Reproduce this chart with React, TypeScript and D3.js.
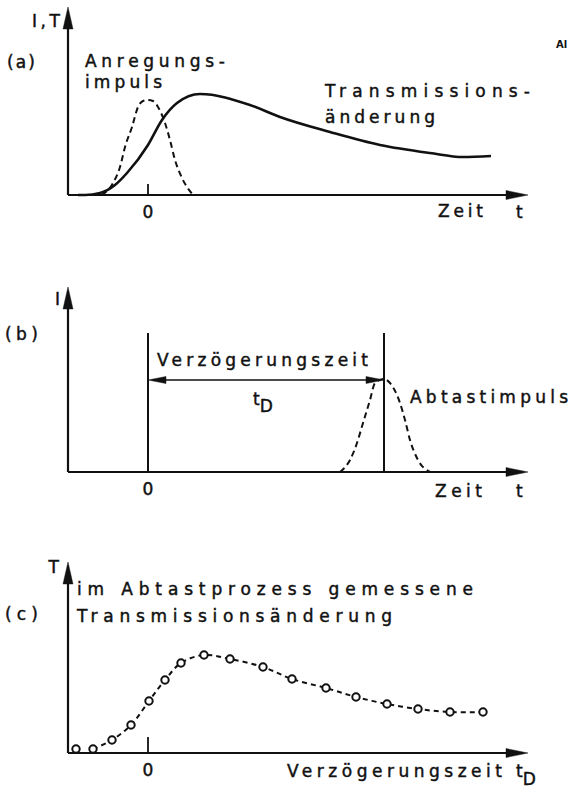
import * as d3 from 'd3';

// (a) Anregungsimpuls (gestrichelt) und Transmissionsänderung (durchgezogen)
const pumpT = [-4.6, -3.5, -2.8, -2.3, -1.6, -1.0, -0.5, 0, 0.5, 1.0, 1.7, 2.2, 2.7, 3.4, 4.5];
const pumpI = [0, 1.2, 2.8, 4.8, 6.8, 8.8, 9.4, 9.5, 9.4, 8.8, 7.2, 5.5, 3.5, 1.7, 0];
const transT = [-7, -6.3, -4.8, -3.3, -2.1, 0, 1.4, 2.9, 5.2, 10.2, 13.2, 18.2, 23.2, 28.2, 31.5, 34.3];
const transV = [0, 0, 0.2, 1.0, 2.2, 5.0, 7.5, 9.2, 10.1, 9.0, 7.8, 6.3, 5.0, 4.2, 3.8, 3.9];

// (b) Abtastimpuls bei Verzögerungszeit tD
const delayT = 23.6;
const probeT = [19.2, 20.2, 20.9, 21.5, 22.2, 22.7, 23.6, 24.2, 25.2, 25.7, 26.2, 27.0, 28.2];
const probeI = [0, 1.2, 2.9, 4.9, 7.2, 8.9, 9.3, 8.9, 6.9, 5.2, 3.2, 1.2, 0];

// (c) gemessene Punkte
const sampleT = [-7.2, -5.5, -3.6, -1.7, 0.1, 1.7, 3.3, 5.6, 8.2, 11.5, 14.4, 17.8, 20.8, 23.9, 27.0, 30.2, 33.5];
const sampleV = [0.4, 0.4, 1.3, 2.8, 5.2, 7.3, 9.0, 9.8, 9.4, 8.6, 7.4, 6.5, 5.6, 4.9, 4.4, 4.1, 4.1];

const FONT = 'DejaVu Sans';
const INK = '#111';
const x = d3.scaleLinear().domain([-8, 38]).range([68, 528]);

// Text mit fester Breite (Schablonenschrift hat gleichmäßige Abstände)
function Label({ x, y, len, children }: { x: number; y: number; len?: number; children: any }) {
  return (
    <text x={x} y={y} textLength={len} lengthAdjust={len ? 'spacing' : undefined} letterSpacing={len ? 0 : 4}>
      {children}
    </text>
  );
}

function Axes({ base, top, tick }: { base: number; top: number; tick: number }) {
  const x0 = x(-8), x1 = x(38), z = x(0);
  return (
    <g>
      <line x1={x0} x2={x1 - 14} y1={base} y2={base} stroke={INK} strokeWidth={2.2} />
      <path d={`M${x1},${base} L${x1 - 22},${base - 4.5} L${x1 - 22},${base + 4.5} Z`} fill={INK} />
      <line x1={x0} x2={x0} y1={base} y2={top + 14} stroke={INK} strokeWidth={2.2} />
      <path d={`M${x0},${top} L${x0 - 5},${top + 22} L${x0 + 5},${top + 22} Z`} fill={INK} />
      {tick > 0 && <line x1={z} x2={z} y1={base} y2={base - tick} stroke={INK} strokeWidth={1.8} />}
      <text x={z} y={base + 23} textAnchor="middle">0</text>
    </g>
  );
}

export default function App() {
  const yA = d3.scaleLinear().domain([0, 10]).range([195, 95]);
  const yB = d3.scaleLinear().domain([0, 10]).range([472, 372]);
  const yC = d3.scaleLinear().domain([0, 10]).range([753, 653]);

  const lineA = d3.line<number>().x((_, i) => x(pumpT[i])).y(d => yA(d)).curve(d3.curveMonotoneX);
  const lineT = d3.line<number>().x((_, i) => x(transT[i])).y(d => yA(d)).curve(d3.curveMonotoneX);
  const lineB = d3.line<number>().x((_, i) => x(probeT[i])).y(d => yB(d)).curve(d3.curveMonotoneX);
  const lineC = d3.line<number>().x((_, i) => x(sampleT[i + 1])).y(d => yC(d)).curve(d3.curveCatmullRom);

  const xd = x(delayT), z = x(0);
  const arrowY = 380;

  return (
    <svg width={571} height={790} style={{ position: 'absolute', left: 0, top: 0, background: '#fff' }}
      fontFamily={FONT} fontSize={17} fill={INK} stroke={INK} strokeWidth={0.45}>
      {/* (a) */}
      <Axes base={195} top={7} tick={11} />
      <path d={lineA(pumpI) || ''} fill="none" stroke={INK} strokeWidth={2} strokeDasharray="6,4" />
      <path d={lineT(transV) || ''} fill="none" stroke={INK} strokeWidth={2.6} />
      <Label x={32} y={27} len={28}>I,T</Label>
      <Label x={7} y={68} len={28}>(a)</Label>
      <Label x={85} y={67} len={140}>Anregungs-</Label>
      <Label x={85} y={88} len={77}>impuls</Label>
      <Label x={325} y={97} len={205}>Transmissions-</Label>
      <Label x={325} y={123} len={110}>änderung</Label>
      <Label x={438} y={217} len={45}>Zeit</Label>
      <text x={516} y={218}>t</text>
      <text x={556} y={48} fontSize={10} fontWeight="bold" strokeWidth={0}>Al</text>

      {/* (b) */}
      <Axes base={472} top={287} tick={0} />
      <line x1={z} x2={z} y1={333} y2={472} stroke={INK} strokeWidth={2} />
      <line x1={xd} x2={xd} y1={333} y2={472} stroke={INK} strokeWidth={2} />
      <line x1={z + 14} x2={xd - 14} y1={arrowY} y2={arrowY} stroke={INK} strokeWidth={1.6} />
      <path d={`M${z},${arrowY} L${z + 18},${arrowY - 3.5} L${z + 18},${arrowY + 3.5} Z`} fill={INK} />
      <path d={`M${xd},${arrowY} L${xd - 18},${arrowY - 3.5} L${xd - 18},${arrowY + 3.5} Z`} fill={INK} />
      <path d={lineB(probeI) || ''} fill="none" stroke={INK} strokeWidth={2} strokeDasharray="6,4" />
      <text x={60} y={305} textAnchor="end">I</text>
      <Label x={5} y={340} len={33}>(b)</Label>
      <Label x={157} y={366} len={211}>Verzögerungszeit</Label>
      <text x={253} y={405}>t<tspan dy={7}>D</tspan></text>
      <Label x={410} y={403} len={158}>Abtastimpuls</Label>
      <Label x={435} y={497} len={47}>Zeit</Label>
      <text x={516} y={497}>t</text>

      {/* (c) */}
      <Axes base={753} top={562} tick={16} />
      <path d={lineC(sampleV.slice(1)) || ''} fill="none" stroke={INK} strokeWidth={2} strokeDasharray="5,4" />
      {sampleV.map((v, i) => (
        <circle key={i} cx={x(sampleT[i])} cy={yC(v)} r={3.7} fill="#fff" stroke={INK} strokeWidth={2} />
      ))}
      <text x={59} y={573} textAnchor="end">T</text>
      <Label x={5} y={620} len={33}>(c)</Label>
      <Label x={77} y={595} len={396}>im Abtastprozess gemessene</Label>
      <Label x={77} y={622} len={315}>Transmissionsänderung</Label>
      <Label x={287} y={777} len={215}>Verzögerungszeit</Label>
      <text x={516} y={777}>t<tspan dy={8}>D</tspan></text>
    </svg>
  );
}
